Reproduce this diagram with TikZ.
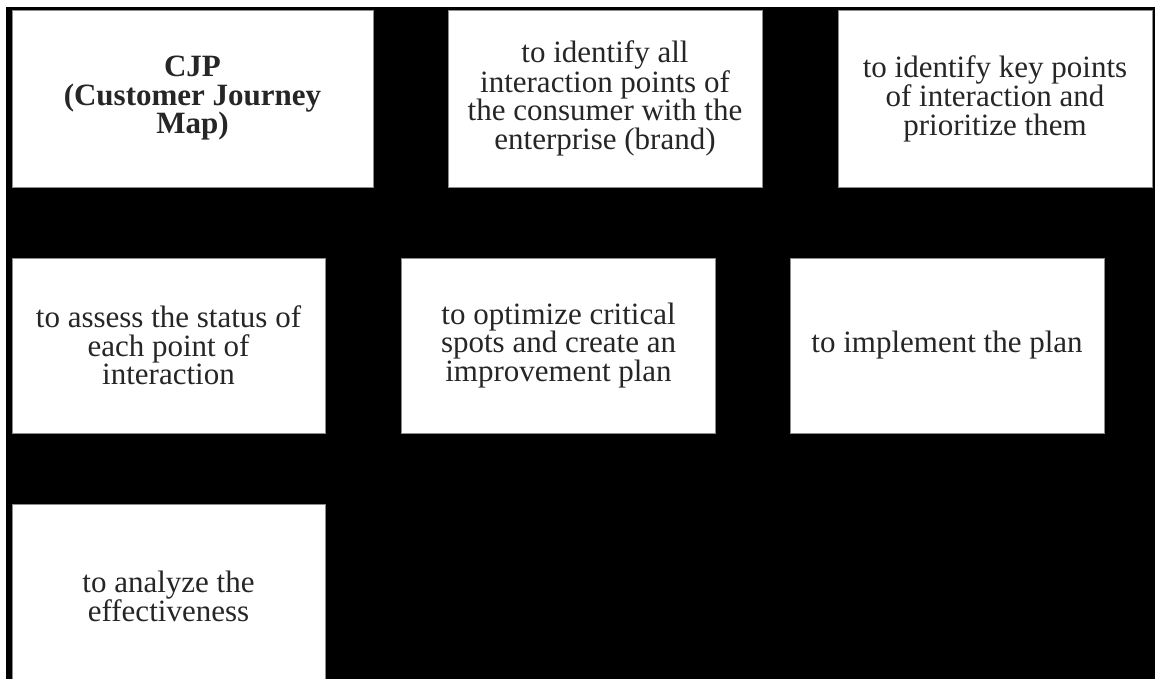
\documentclass[tikz,border=0pt]{standalone}
\usepackage{fontspec}
\setmainfont{Liberation Serif}
\begin{document}
\begin{tikzpicture}[x=1pt,y=-1pt,
  stepbox/.style={draw=black!45, line width=0.8pt, fill=white, inner sep=0pt,
    align=center, text=black!85, font=\fontsize{31}{28.5}\selectfont},
  boldbox/.style={stepbox, font=\fontsize{31}{28.5}\selectfont\bfseries}]
\useasboundingbox (0,0) rectangle (1155,679);
\clip (0,0) rectangle (1155,679);
\fill[white] (0,0) rectangle (1155,679);
\fill[black] (6,7) rectangle (1160,690);
% row 1
\node[boldbox, minimum width=361pt, minimum height=177pt] (cjp) at (192.5,98.5)
  {CJP\\(Customer Journey\\Map)};
\node[stepbox, minimum width=314pt, minimum height=177pt] (ident) at (605,98.5)
  {to identify all\\interaction points of\\the consumer with the\\enterprise (brand)};
\node[stepbox, minimum width=314pt, minimum height=177pt] (key) at (995,98.5)
  {to identify key points\\of interaction and\\prioritize them};
% row 2
\node[stepbox, minimum width=313pt, minimum height=175pt] (assess) at (168.5,345.5)
  {to assess the status of\\each point of\\interaction};
\node[stepbox, minimum width=314pt, minimum height=175pt] (optim) at (558.5,345.5)
  {to optimize critical\\spots and create an\\improvement plan};
\node[stepbox, minimum width=314pt, minimum height=175pt] (impl) at (947,345.5)
  {to implement the plan};
% row 3
\node[stepbox, minimum width=313pt, minimum height=185pt] (analyze) at (168.5,596.5)
  {to analyze the\\effectiveness};
\end{tikzpicture}
\end{document}
